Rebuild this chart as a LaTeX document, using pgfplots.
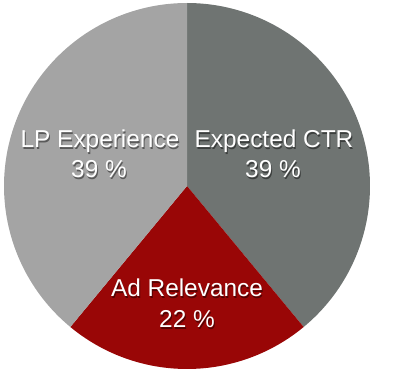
\documentclass[border=0pt]{standalone}
\usepackage{pgfplots}
\pgfplotsset{compat=1.18}
\usepackage{pgfplotstable}
\usepackage{fontspec}
\setmainfont{Liberation Sans}
\definecolor{ctrgray}{HTML}{6F7472}
\definecolor{adred}{HTML}{990606}
\definecolor{lpgray}{HTML}{A4A4A4}

\pgfplotstableread{
value
39
22
39
}\piedata
\pgfplotstablegetelem{0}{value}\of\piedata \let\va\pgfplotsretval
\pgfplotstablegetelem{1}{value}\of\piedata \let\vb\pgfplotsretval
\pgfplotstablegetelem{2}{value}\of\piedata \let\vc\pgfplotsretval
\pgfmathsetmacro{\aA}{90}
\pgfmathsetmacro{\aB}{90-3.6*\va}
\pgfmathsetmacro{\aC}{\aB-3.6*\vb}
\pgfmathsetmacro{\aD}{\aC-3.6*\vc}
\def\cx{187}
\def\cy{187}
\def\rr{183}

\newcommand{\lbl}[3]{%
  \node[anchor=base, text=black, opacity=0.45, font=\fontsize{24.5}{30}\selectfont] at (axis cs:#1+1,#2-1.5) {#3};
  \node[anchor=base, text=white, font=\fontsize{24.5}{30}\selectfont] at (axis cs:#1,#2) {#3};
}

\begin{document}
\begin{tikzpicture}
\begin{axis}[
  scale only axis, width=408bp, height=373bp,
  xmin=0, xmax=408, ymin=0, ymax=373,
  hide axis, clip=false,
]
\addplot[draw=none, forget plot] coordinates {(0,0) (408,373)};
\addplot[fill=ctrgray, draw=none, domain=\aB:\aA, samples=120, variable=\t]
  ({\cx+\rr*cos(\t)},{\cy+\rr*sin(\t)}) -- (axis cs:\cx,\cy) -- cycle;
\addplot[fill=adred, draw=none, domain=\aC:\aB, samples=80, variable=\t]
  ({\cx+\rr*cos(\t)},{\cy+\rr*sin(\t)}) -- (axis cs:\cx,\cy) -- cycle;
\addplot[fill=lpgray, draw=none, domain=\aD:\aC, samples=120, variable=\t]
  ({\cx+\rr*cos(\t)},{\cy+\rr*sin(\t)}) -- (axis cs:\cx,\cy) -- cycle;

\lbl{274}{225}{Expected CTR}
\lbl{273}{195}{39 \%}
\lbl{100}{225}{LP Experience}
\lbl{99}{195}{39 \%}
\lbl{187}{76}{Ad Relevance}
\lbl{187}{45}{22 \%}
\end{axis}
\end{tikzpicture}
\end{document}
